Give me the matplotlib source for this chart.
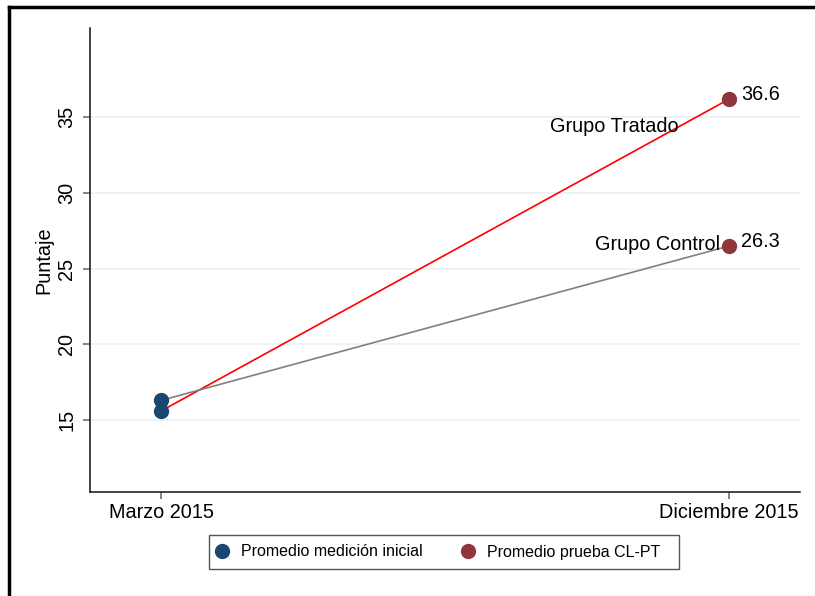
import numpy as np
import matplotlib
matplotlib.use("Agg")
import matplotlib.pyplot as plt
from matplotlib.lines import Line2D
from matplotlib.patches import Rectangle

plt.rcParams['font.family'] = ['Liberation Sans', 'DejaVu Sans']

# data (plotted positions and printed labels differ slightly)
periods = ["Marzo 2015", "Diciembre 2015"]
tratado = [15.6, 36.2]
control = [16.3, 26.5]
end_labels = ["36.6", "26.3"]
group_names = ["Grupo Tratado", "Grupo Control"]
y_ticks = [15, 20, 25, 30, 35]
legend_labels = ["Promedio medición inicial", "Promedio prueba CL-PT"]

blue = "#1a476f"
maroon = "#90353b"

fig = plt.figure(figsize=(8.15, 5.96), dpi=100)
ax = fig.add_axes([90/815, 1 - 492/596, 710/815, 464/596])

x = np.arange(len(periods))

# lines first, markers on top
ax.plot(x, tratado, color="#ff0000", lw=1.2, zorder=3)
ax.plot(x, control, color="#808080", lw=1.2, zorder=3)

for series in (tratado, control):
    ax.plot(x[0], series[0], "o", color=blue, ms=10, zorder=4)
    ax.plot(x[1], series[1], "o", color=maroon, ms=10, zorder=4)

# annotations at december points
ax.annotate(group_names[0], (x[1], tratado[1]), xytext=(-36.5, -19.5),
            textcoords="offset points", ha="right", va="center", fontsize=14.3)
ax.annotate(group_names[1], (x[1], control[1]), xytext=(-6.5, 1),
            textcoords="offset points", ha="right", va="center", fontsize=14.3)
for series, lab in zip((tratado, control), end_labels):
    ax.annotate(lab, (x[1], series[1]), xytext=(8.5, 3),
                textcoords="offset points", ha="left", va="center", fontsize=14.3)

ax.set_xlim(-0.125, 1.125)
ax.set_ylim(10.25, 40.9)
ax.set_xticks(x)
ax.set_xticklabels(periods, fontsize=14.3)
ax.set_yticks(y_ticks)
ax.set_yticklabels([str(t) for t in y_ticks], fontsize=14.3, rotation=90, va="center")
ax.set_ylabel("Puntaje", fontsize=14.3, labelpad=3)

ax.grid(axis="y", color="#eaf2f3", lw=1.3, zorder=0)
ax.set_axisbelow(True)
ax.tick_params(axis="both", length=5, width=1.2, color="#707070", pad=3)
ax.tick_params(axis="y", pad=5)
for s in ("top", "right"):
    ax.spines[s].set_visible(False)
for s in ("left", "bottom"):
    ax.spines[s].set_linewidth(1.1)
    ax.spines[s].set_color("#111111")

# legend: frameless entries plus a hand-placed box
handles = [Line2D([], [], marker="o", ls="none", color=blue, ms=10),
           Line2D([], [], marker="o", ls="none", color=maroon, ms=10)]
leg = fig.legend(handles, legend_labels, loc="center left", bbox_to_anchor=(214/815, 1 - 552/596),
                 ncol=2, fontsize=11.5, frameon=False, borderpad=0, borderaxespad=0,
                 handletextpad=0.7, columnspacing=2.35, handlelength=1.0)
fig.add_artist(Rectangle((209/815, 1 - 569/596), 470/815, 34/596, transform=fig.transFigure,
                         fill=False, edgecolor="#555555", lw=1.0))

# cropped outer border (left and top only)
fig.add_artist(Line2D([9/815, 9/815], [0, 1 - 6.5/596], color="black", lw=2.5))
fig.add_artist(Line2D([9/815, 1], [1 - 6.5/596, 1 - 6.5/596], color="black", lw=2.5))

fig.savefig("out.png", dpi=100)
